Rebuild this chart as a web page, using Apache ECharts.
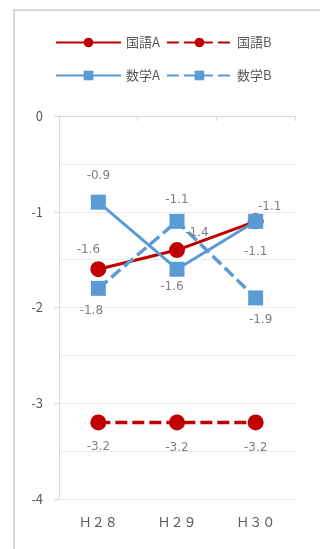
<!DOCTYPE html>
<html>
<head>
<meta charset="utf-8">
<script src="https://cdn.jsdelivr.net/npm/echarts@6/dist/echarts.min.js"></script>
<style>
  html, body { margin: 0; padding: 0; background: #fff; }
  #frame { position: absolute; left: 13px; top: 9px; width: 330px; height: 560px;
           border-left: 2px solid #d9d9d9; border-top: 2px solid #d9d9d9; box-sizing: border-box; }
  #chart { position: absolute; left: 0; top: 0; width: 320px; height: 549px; }
</style>
</head>
<body>
<div id="frame"></div>
<div id="chart"></div>
<script>
// Year categories and per-subject score differences
const years = ['Ｈ２８', 'Ｈ２９', 'Ｈ３０'];
const kokugoA = [-1.6, -1.4, -1.1];
const kokugoB = [-3.2, -3.2, -3.2];
const sugakuA = [-0.9, -1.6, -1.1];
const sugakuB = [-1.8, -1.1, -1.9];
const yTicks = [0, -1, -2, -3, -4];

// Per-point label nudges (pixels from each marker centre)
const offKA = [[-10, -19], [20, -17], [14, -14]];
const offKB = [[0, 24], [0, 25], [0, 25]];
const offSA = [[0, -26], [-5, 18], [0, 31]];
const offSB = [[-7, 23], [0, -21], [5, 22]];

const RED = '#C00000';
const BLUE = '#5B9BD5';
const FONT = '"Noto Sans CJK JP", "Noto Sans", sans-serif';
const LABEL_FONT = '"DejaVu Sans", "Noto Sans", sans-serif';

function points(values, offsets) {
  return values.map((v, i) => ({
    value: v,
    label: { offset: offsets[i] }
  }));
}

function lineSeries(name, values, offsets, color, symbol, size, dashed) {
  return {
    name: name,
    type: 'line',
    data: points(values, offsets),
    symbol: symbol,
    symbolSize: size,
    showAllSymbol: true,
    itemStyle: { color: color },
    lineStyle: dashed
      ? { color: color, width: 3.5, type: [12, 5], cap: 'butt' }
      : { color: color, width: 3, type: 'solid' },
    label: {
      show: true,
      position: 'inside',
      color: '#7f7f7f',
      fontSize: 12,
      fontFamily: LABEL_FONT,
      formatter: p => p.value.toFixed(1)
    },
    emphasis: { disabled: true },
    animation: false
  };
}

const chart = echarts.init(document.getElementById('chart'), null, { renderer: 'canvas' });

const legendBase = {
  itemWidth: 65,
  itemHeight: 12,
  itemGap: 6,
  textStyle: { color: '#595959', fontSize: 13, fontFamily: FONT },
  padding: 0,
  selectedMode: false
};

chart.setOption({
  backgroundColor: 'transparent',
  textStyle: { fontFamily: FONT },
  legend: [
    Object.assign({}, legendBase, { left: 55, top: 36, data: ['国語A', '国語B'] }),
    Object.assign({}, legendBase, { left: 55, top: 69, data: ['数学A', '数学B'] })
  ],
  grid: { left: 59, right: 25, top: 116, bottom: 50, containLabel: false },
  xAxis: [
    {
      type: 'category',
      data: years,
      position: 'bottom',
      axisLine: { show: false },
      axisTick: { show: false },
      axisLabel: { color: '#595959', fontSize: 13, fontFamily: FONT, margin: 17 }
    },
    {
      type: 'category',
      data: years,
      position: 'top',
      axisLine: { onZero: false, lineStyle: { color: '#d9d9d9', width: 1 } },
      axisTick: { show: true, inside: true, length: 5, lineStyle: { color: '#d9d9d9' } },
      axisLabel: { show: false }
    }
  ],
  yAxis: {
    type: 'value',
    min: -4,
    max: 0,
    interval: 1,
    axisLine: { show: true, lineStyle: { color: '#d9d9d9' } },
    axisTick: { show: true, length: 5, lineStyle: { color: '#d9d9d9' } },
    axisLabel: {
      color: '#595959', fontSize: 13, fontFamily: FONT, margin: 16,
      formatter: v => (yTicks.includes(v) ? String(v) : '')
    },
    splitLine: { show: true, lineStyle: { color: '#ececec' } },
    minorTick: { show: false, splitNumber: 2 },
    minorSplitLine: { show: true, lineStyle: { color: '#ececec' } }
  },
  series: [
    lineSeries('国語A', kokugoA, offKA, RED, 'circle', 16, false),
    lineSeries('国語B', kokugoB, offKB, RED, 'circle', 16, true),
    lineSeries('数学A', sugakuA, offSA, BLUE, 'rect', 15, false),
    lineSeries('数学B', sugakuB, offSB, BLUE, 'rect', 15, true)
  ]
});
</script>
</body>
</html>
